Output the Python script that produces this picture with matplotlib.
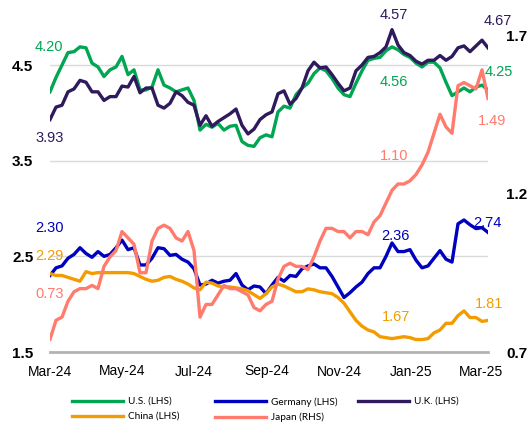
import numpy as np
import pandas as pd
import matplotlib
matplotlib.use("Agg")
import matplotlib.pyplot as plt
import matplotlib.dates as mdates

# Rendimientos a 10 años (lectura aproximada del gráfico)
fechas = pd.date_range("2024-03-01", "2025-03-07", periods=74)

us = [4.22, 4.37, 4.50, 4.63, 4.64, 4.69, 4.68, 4.52, 4.48, 4.38,
      4.45, 4.48, 4.59, 4.40, 4.45, 4.24, 4.24, 4.27, 4.45, 4.29,
      4.26, 4.22, 4.24, 4.26, 4.13, 3.82, 3.88, 3.85, 3.89, 3.82,
      3.86, 3.87, 3.70, 3.66, 3.65, 3.74, 3.77, 3.75, 4.01, 4.07,
      4.05, 4.19, 4.26, 4.31, 4.41, 4.47, 4.44, 4.36, 4.26, 4.19,
      4.17, 4.31, 4.44, 4.55, 4.57, 4.58, 4.65, 4.69, 4.66, 4.61,
      4.58, 4.52, 4.48, 4.53, 4.53, 4.47, 4.32, 4.18, 4.22, 4.26,
      4.22, 4.27, 4.29, 4.24]

uk = [3.93, 4.06, 4.08, 4.22, 4.25, 4.34, 4.32, 4.22, 4.22, 4.13,
      4.17, 4.17, 4.28, 4.27, 4.38, 4.21, 4.26, 4.26, 4.08, 4.05,
      4.10, 4.22, 4.18, 4.11, 4.08, 3.87, 3.97, 3.86, 3.91, 3.95,
      3.99, 4.04, 3.87, 3.78, 3.83, 3.93, 3.98, 4.01, 4.20, 4.23,
      4.09, 4.15, 4.26, 4.44, 4.53, 4.47, 4.48, 4.40, 4.31, 4.23,
      4.26, 4.44, 4.50, 4.58, 4.59, 4.63, 4.69, 4.87, 4.71, 4.63,
      4.60, 4.54, 4.51, 4.55, 4.55, 4.60, 4.55, 4.59, 4.68, 4.70,
      4.64, 4.70, 4.76, 4.68]

alemania = [2.30, 2.38, 2.40, 2.48, 2.52, 2.59, 2.53, 2.49, 2.55, 2.50,
            2.52, 2.59, 2.67, 2.57, 2.59, 2.41, 2.41, 2.48, 2.59, 2.58,
            2.51, 2.52, 2.47, 2.44, 2.37, 2.20, 2.21, 2.25, 2.22, 2.24,
            2.25, 2.32, 2.20, 2.15, 2.19, 2.18, 2.11, 2.20, 2.28, 2.24,
            2.30, 2.29, 2.37, 2.40, 2.42, 2.38, 2.38, 2.29, 2.18, 2.07,
            2.12, 2.18, 2.23, 2.32, 2.38, 2.38, 2.50, 2.64, 2.55, 2.55,
            2.57, 2.46, 2.38, 2.40, 2.48, 2.56, 2.47, 2.44, 2.84, 2.88,
            2.83, 2.79, 2.80, 2.75]

china = [2.32, 2.30, 2.30, 2.28, 2.26, 2.24, 2.34, 2.32, 2.33, 2.33,
         2.33, 2.33, 2.33, 2.33, 2.32, 2.29, 2.26, 2.24, 2.25, 2.28,
         2.29, 2.26, 2.24, 2.21, 2.17, 2.15, 2.23, 2.22, 2.19, 2.18,
         2.18, 2.17, 2.16, 2.14, 2.10, 2.06, 2.11, 2.18, 2.21, 2.19,
         2.16, 2.13, 2.13, 2.16, 2.15, 2.13, 2.12, 2.11, 2.07, 2.01,
         1.92, 1.83, 1.77, 1.73, 1.71, 1.66, 1.65, 1.64, 1.65, 1.66,
         1.65, 1.63, 1.63, 1.64, 1.70, 1.73, 1.80, 1.80, 1.88, 1.93,
         1.86, 1.86, 1.82, 1.83]

japon = [0.74, 0.80, 0.81, 0.86, 0.89, 0.90, 0.90, 0.91, 0.90, 0.97,
         1.00, 1.02, 1.08, 1.06, 1.04, 0.95, 0.95, 1.05, 1.09, 1.10,
         1.09, 1.06, 1.05, 1.08, 1.02, 0.81, 0.85, 0.85, 0.88, 0.91,
         0.90, 0.90, 0.89, 0.88, 0.84, 0.83, 0.85, 0.86, 0.93, 0.97,
         0.98, 0.97, 0.97, 0.96, 1.00, 1.05, 1.09, 1.09, 1.08, 1.08,
         1.06, 1.08, 1.08, 1.07, 1.11, 1.13, 1.17, 1.21, 1.23, 1.23,
         1.24, 1.26, 1.29, 1.33, 1.39, 1.45, 1.41, 1.39, 1.54, 1.55,
         1.54, 1.53, 1.59, 1.50]

# Etiquetas de valores (texto, posicion en fraccion de ejes)
etiquetas = [
    ("4.20", -0.034, 0.923, "us"), ("3.93", -0.034, 0.650, "uk"),
    ("2.30", -0.034, 0.377, "de"), ("2.29", -0.034, 0.291, "cn"),
    ("0.73", -0.034, 0.176, "jp"), ("4.57", 0.753, 1.021, "uk"),
    ("4.67", 0.989, 1.003, "uk"), ("4.56", 0.753, 0.817, "us"),
    ("4.25", 0.993, 0.847, "us"), ("1.49", 0.977, 0.700, "jp"),
    ("1.10", 0.753, 0.594, "jp"), ("2.36", 0.756, 0.352, "de"),
    ("2.74", 0.966, 0.392, "de"), ("1.67", 0.758, 0.105, "cn"),
    ("1.81", 0.970, 0.145, "cn"),
]

colores = {"us": "#00A651", "de": "#0000BF", "uk": "#2E1A5C",
           "cn": "#F39C00", "jp": "#FF7B6E"}

fuente = ["Liberation Sans", "DejaVu Sans"]

fig = plt.figure(figsize=(5.29, 4.24), dpi=100)
ax = fig.add_axes([50 / 529, 1 - 352 / 424, 438 / 529, 330 / 424])
ax2 = ax.twinx()

lw = 2.4
l_us, = ax.plot(fechas, us, color=colores["us"], lw=lw)
l_de, = ax.plot(fechas, alemania, color=colores["de"], lw=lw)
l_uk, = ax.plot(fechas, uk, color=colores["uk"], lw=lw)
l_cn, = ax.plot(fechas, china, color=colores["cn"], lw=lw)
l_jp, = ax2.plot(fechas, japon, color=colores["jp"], lw=lw)

ax.set_ylim(1.5, 4.95)
ax2.set_ylim(0.7, 0.7 + 330 / 317)
ax.set_xlim(fechas[0], fechas[-1])

ax.set_yticks([1.5, 2.5, 3.5, 4.5])
ax.set_yticklabels(["1.5", "2.5", "3.5", "4.5"], fontweight="bold",
                   fontsize=11, family=fuente)
ax2.set_yticks([0.7, 1.2, 1.7])
ax2.set_yticklabels(["0.7", "1.2", "1.7"], fontweight="bold",
                    fontsize=11, family=fuente)
ax.tick_params(axis="y", length=0, pad=12)
ax2.tick_params(axis="y", length=0, pad=13)

ticks_x = pd.to_datetime(["2024-03-01", "2024-05-01", "2024-07-01", "2024-09-01",
                          "2024-11-01", "2025-01-01", "2025-03-01"])
ax.set_xticks(ticks_x)
ax.xaxis.set_major_formatter(mdates.DateFormatter("%b-%y"))
ax.tick_params(axis="x", length=0, pad=9, labelsize=10)
for t in ax.get_xticklabels():
    t.set_family(fuente)

ax.grid(axis="y", color="#d9d9d9", lw=1.0)
ax.set_axisbelow(True)
for s in ["top", "left", "right"]:
    ax.spines[s].set_visible(False)
    ax2.spines[s].set_visible(False)
ax.spines["bottom"].set_color("#b3b3b3")
ax.spines["bottom"].set_linewidth(2)
ax2.spines["bottom"].set_visible(False)

for texto, fx, fy, clave in etiquetas:
    ax.text(fx, fy, texto, transform=ax.transAxes, ha="left", va="center",
            color=colores[clave], fontsize=10.5, family=fuente, clip_on=False)

# Leyenda en tres columnas de ancho fijo
columnas = [
    ([l_us, l_cn], ["U.S. (LHS)", "China (LHS)"], 72),
    ([l_de, l_jp], ["Germany (LHS)", "Japan (RHS)"], 215),
    ([l_uk], ["U.K. (LHS)"], 358),
]
for lineas, textos, x0 in columnas:
    fig.legend(lineas, textos, loc="upper left",
               bbox_to_anchor=(x0 / 529, 1 - 397 / 424), frameon=False,
               prop={"family": "Lato", "size": 7.2}, handlelength=5.1,
               handletextpad=0.5, labelspacing=0.6, borderpad=0,
               borderaxespad=0)

plt.savefig("out.png", dpi=100)
